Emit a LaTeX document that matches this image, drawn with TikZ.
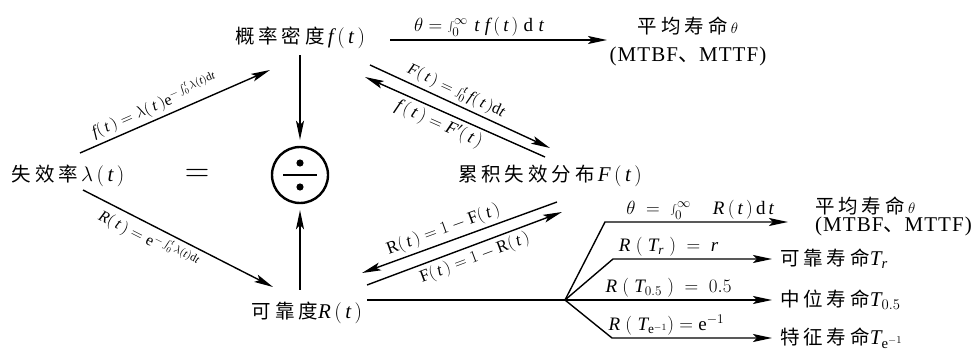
\RequirePackage{fix-cm}
\documentclass[tikz,border=0pt]{standalone}
\usepackage{fontspec}
\setmainfont{Liberation Serif}
\newfontfamily\cjk[LetterSpace=20]{Noto Sans CJK SC}
\newfontfamily\lat[LetterSpace=5]{Liberation Serif}
\usetikzlibrary{arrows.meta}
\newcommand\zhsize{\fontsize{19.5}{22}\selectfont}
\newcommand\lblsize{\fontsize{16}{18}\selectfont}
\newcommand\hlblsize{\fontsize{19}{21}\selectfont}
\newcommand\vi[1]{\mathit{#1}}
\newcommand\tpar{(\,\vi{t}\,)}
\newcommand\dd{\mathrm{d}}
\newcommand\nm[1]{{\fontsize{21}{22}\selectfont$#1$}}
\newcommand\mtbf{{\lat\fontsize{21}{22}\selectfont(MTBF{\cjk 、}MTTF)}}
\begin{document}
\begin{tikzpicture}[x=1pt,y=-1pt,
  arr/.style={-{Stealth[length=19pt,width=8pt,inset=4pt]},line width=1.4pt},
  larr/.style={{Stealth[length=19pt,width=8pt,inset=4pt]}-,line width=1.4pt},
  ln/.style={line width=1.4pt},
  txt/.style={inner sep=0pt,font=\zhsize},
  lbl/.style={inner sep=3.5pt,font=\lblsize},
  hlbl/.style={inner sep=2pt,font=\hlblsize},
]
\useasboundingbox (0,0) rectangle (975,350);

% main nodes
\node[txt] (lam) at (68,176) {{\cjk 失效率}\,\nm{\lambda\,\tpar}};
\node[txt] (f) at (300,38) {{\cjk 概率密度}\,\nm{\vi{f}\,\tpar}};
\node[txt] (F) at (550,176) {{\cjk 累积失效分布}\,\nm{\vi{F}\,\tpar}};
\node[txt] (R) at (307,313) {{\cjk 可靠度}\nm{\vi{R}\,\tpar}};
\node[font=\fontsize{34}{34}\selectfont,inner sep=0pt] (eq) at (197,175) {$=$};
\node[draw,circle,line width=2.4pt,minimum size=56pt,inner sep=0pt] (div) at (300,175) {};
\fill ([yshift=-12]div.center) circle (3.6pt);
\fill ([yshift=12]div.center) circle (3.6pt);
\draw[line width=2.4pt] ([xshift=-17]div.center) -- ([xshift=17]div.center);

\node[txt,align=center] (th1) at (688,41)
  {{\cjk 平均寿命}\,{\fontsize{15}{15}\selectfont$\theta$}\\[6pt]\mtbf};
\node[txt,align=left,anchor=west] (th2) at (815,216)
  {{\cjk 平均寿命}\,{\fontsize{15}{15}\selectfont$\theta$}\\[-4pt]\mtbf};
\node[txt,anchor=west] (Tr) at (780,259) {{\cjk 可靠寿命}\nm{\vi{T}_{\vi{r}}}};
\node[txt,anchor=west] (T05) at (780,300) {{\cjk 中位寿命}\nm{\vi{T}_{0.5}}};
\node[txt,anchor=west] (Te) at (780,338) {{\cjk 特征寿命}\nm{\vi{T}_{\mathrm{e}^{-1}}}};
\coordinate (br) at (565,300);

% connectors
\draw[arr] ([shift={(12,-23)}]lam.center) -- ([shift={(-30,32)}]f.center)
  node[lbl,sloped,above,pos=0.42] {$\vi{f}\tpar=\lambda\tpar\mathrm{e}^{-\int_0^{\vi{t}}\lambda(\vi{t})\dd\vi{t}}$};
\draw[arr] ([shift={(15,14)}]lam.center) -- ([shift={(-34,-26)}]R.center)
  node[lbl,sloped,below,pos=0.38] {$\vi{R}\tpar=\mathrm{e}^{-\int_0^{\vi{t}}\lambda(\vi{t})\dd\vi{t}}$};
\draw[arr,shorten <=6pt,shorten >=6pt] (f.south) -- (div.north);
\draw[arr,shorten <=12pt,shorten >=6pt] (div.south |- R.north) -- (div.south);
\draw[arr] ([shift={(90,2)}]f.center) -- ([shift={(-81,-1)}]th1.center)
  node[hlbl,above=1pt,pos=0.41] {$\theta=\int_0^{\infty}\,\vi{t}\;\vi{f}\,(\,\vi{t}\,)\;\dd\;\vi{t}$};
\draw[arr] ([shift={(70,27)}]f.center) -- ([shift={(0,-28)}]F.center)
  node[lbl,sloped,above,pos=0.45] {$\vi{F}\tpar=\int_0^{\vi{t}} \vi{f}\tpar\dd\vi{t}$};
\draw[larr] ([shift={(65,39)}]f.center) -- ([shift={(-5,-19)}]F.center)
  node[lbl,sloped,below,pos=0.44,font=\fontsize{18}{20}\selectfont] {$\vi{f}\,(\,\vi{t}\,)=\vi{F}'(\,\vi{t}\,)$};
\draw[larr] ([shift={(55,-40)}]R.center) -- ([shift={(7,26)}]F.center)
  node[lbl,sloped,above,pos=0.44,font=\fontsize{17.5}{20}\selectfont] {$\mathrm{R}\tpar=1-\mathrm{F}\tpar$};
\draw[arr] ([shift={(60,-28)}]R.center) -- ([shift={(12,36)}]F.center)
  node[lbl,sloped,below,pos=0.53,font=\fontsize{17}{20}\selectfont] {$\mathrm{F}\tpar=1-\mathrm{R}\tpar$};
\draw[ln] ([shift={(60,-13)}]R.center) -- (br);
\draw[arr] (br) -- ++(40,-78) -- ++(183,0)
  node[hlbl,above,pos=0.52] {$\theta\;=\;\int_0^{\infty}\quad\vi{R}\,(\,\vi{t}\,)\,\dd\,\vi{t}$};
\draw[arr] (br) -- ++(48,-41) -- ([xshift=-8]Tr.west)
  node[hlbl,above,pos=0.35] {$\vi{R}\;(\;\vi{T}_{\vi{r}}\;)\;=\;\vi{r}$};
\draw[arr] (br) -- ([xshift=-8]T05.west)
  node[hlbl,above,pos=0.5] {$\vi{R}\;(\;\vi{T}_{0.5}\;)\;=\;0.5$};
\draw[arr] (br) -- ++(47,38) -- ([xshift=-8]Te.west)
  node[hlbl,above,pos=0.34] {$\vi{R}\;(\;\vi{T}_{\mathrm{e}^{-1}})=\mathrm{e}^{-1}$};
\end{tikzpicture}
\end{document}
